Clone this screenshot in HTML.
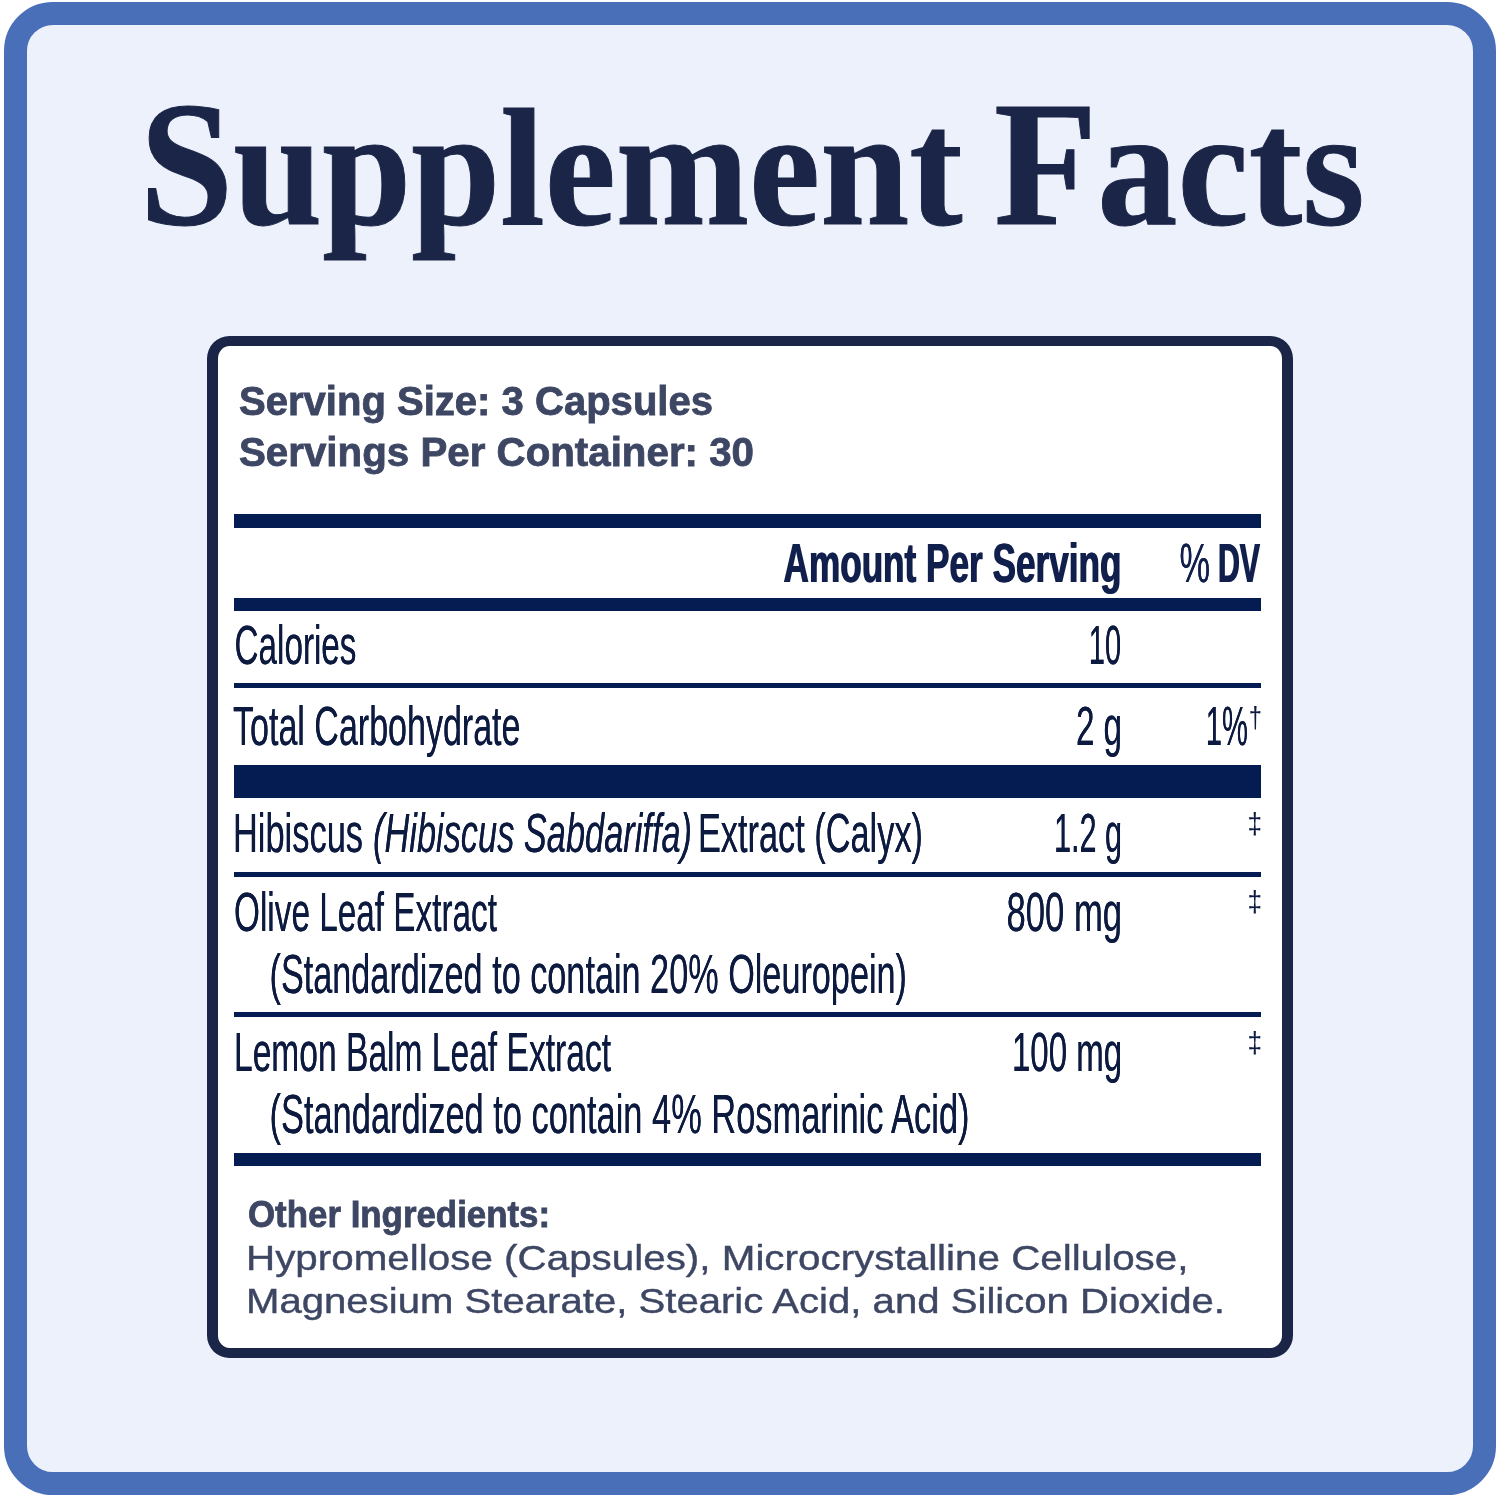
<!DOCTYPE html>
<html lang="en">
<head>
<meta charset="utf-8">
<title>Supplement Facts</title>
<style>
  html, body { margin: 0; padding: 0; background: #ffffff; }
  body { width: 1500px; height: 1498px; position: relative; overflow: hidden; }
  .frame {
    position: absolute; left: 3.5px; top: 2px; width: 1492.5px; height: 1492.5px;
    box-sizing: border-box; border: 23.5px solid #4a6fb9; border-radius: 49px;
    background: #edf1fb;
  }
  .panel {
    position: absolute; left: 207.2px; top: 335.5px; width: 1086.3px; height: 1022.5px;
    box-sizing: border-box; border: solid #1b2547; border-width: 10.5px 11px 10px 11px; border-radius: 22.5px;
    background: #ffffff;
  }
  .rule { position: absolute; left: 233.5px; width: 1027.7px; background: #051c52; }
  svg.txt { position: absolute; left: 0; top: 0; width: 1500px; height: 1498px; overflow: visible; }
  .title { font-family: "Liberation Serif", serif; font-weight: bold; fill: #1b2547; stroke: #1b2547; stroke-width: 1px; }
  .sans  { font-family: "Liberation Sans", sans-serif; }
  .soft  { fill: #3d4663; stroke: #3d4663; stroke-width: 0.4px; }
  .navy  { fill: #0c1a40; stroke: #0c1a40; stroke-width: 0; filter: drop-shadow(0.7px 0 0 #0c1a40); }
  .b     { font-weight: bold; }
  .soft.b { stroke-width: 0.8px; }
  .navy.b { stroke-width: 0; filter: drop-shadow(1.2px 0 0 #101f4c); }
  .i     { font-style: italic; }
  .navy.thin { stroke-width: 0; filter: none; }
  .navy.hd { fill: #101f4c; stroke: #101f4c; }
  .navy.hd:not(.b) { filter: drop-shadow(0.7px 0 0 #101f4c); }
</style>
</head>
<body>
<div class="frame"></div>
<div class="panel"></div>

<div class="rule" style="top:513.5px;height:14.5px"></div>
<div class="rule" style="top:598px;height:13px"></div>
<div class="rule" style="top:683.3px;height:4.4px"></div>
<div class="rule" style="top:765.2px;height:32.6px"></div>
<div class="rule" style="top:872.3px;height:4.6px"></div>
<div class="rule" style="top:1012.4px;height:4.6px"></div>
<div class="rule" style="top:1153.3px;height:12.6px"></div>

<svg class="txt" viewBox="0 0 1500 1498">
  <text class="title" font-size="168" x="139.4" y="223.5" textLength="823.1" lengthAdjust="spacingAndGlyphs"><tspan font-size="177">S</tspan>upplement</text>
  <text class="title" font-size="168" x="994.0" y="223.5" textLength="370.6" lengthAdjust="spacingAndGlyphs"><tspan font-size="177">F</tspan>acts</text>
  <text class="sans soft b" font-size="40" x="239.0" y="414.5" textLength="474.0" lengthAdjust="spacingAndGlyphs">Serving Size: 3 Capsules</text>
  <text class="sans soft b" font-size="40" x="239.0" y="466" textLength="515.0" lengthAdjust="spacingAndGlyphs">Servings Per Container: 30</text>
  <text class="sans navy b hd" font-size="55" x="783.0" y="582" textLength="338.0" lengthAdjust="spacingAndGlyphs">Amount Per Serving</text>
  <text class="sans navy hd" font-size="55" x="1179.4" y="582" textLength="30.6" lengthAdjust="spacingAndGlyphs">%</text>
  <text class="sans navy b hd" font-size="55" x="1217.4" y="582" textLength="42.1" lengthAdjust="spacingAndGlyphs">DV</text>
  <text class="sans navy" font-size="55" x="234.5" y="664" textLength="122.0" lengthAdjust="spacingAndGlyphs">Calories</text>
  <text class="sans navy" font-size="55" x="1088.8" y="664" textLength="32.3" lengthAdjust="spacingAndGlyphs">10</text>
  <text class="sans navy" font-size="55" x="233.0" y="744.7" textLength="287.5" lengthAdjust="spacingAndGlyphs">Total Carbohydrate</text>
  <text class="sans navy" font-size="55" x="1075.9" y="744.7" textLength="46.2" lengthAdjust="spacingAndGlyphs">2 g</text>
  <text class="sans navy" font-size="55" x="1205.8" y="744.7" textLength="42.2" lengthAdjust="spacingAndGlyphs">1%</text>
  <text class="sans navy thin" font-size="29" x="1248.7" y="728" textLength="13.2" lengthAdjust="spacingAndGlyphs">†</text>
  <text class="sans navy" font-size="55" x="232.9" y="851.5" textLength="130.1" lengthAdjust="spacingAndGlyphs">Hibiscus</text>
  <text class="sans navy i" font-size="55" x="373.0" y="851.5" textLength="319.0" lengthAdjust="spacingAndGlyphs">(Hibiscus Sabdariffa)</text>
  <text class="sans navy" font-size="55" x="697.9" y="851.5" textLength="225.1" lengthAdjust="spacingAndGlyphs">Extract (Calyx)</text>
  <text class="sans navy" font-size="55" x="1053.9" y="851.5" textLength="68.3" lengthAdjust="spacingAndGlyphs">1.2 g</text>
  <text class="sans navy thin" font-size="29" x="1247.5" y="834" textLength="14.6" lengthAdjust="spacingAndGlyphs">‡</text>
  <text class="sans navy" font-size="55" x="234.0" y="930.5" textLength="263.0" lengthAdjust="spacingAndGlyphs">Olive Leaf Extract</text>
  <text class="sans navy" font-size="55" x="1006.5" y="930.5" textLength="115.6" lengthAdjust="spacingAndGlyphs">800 mg</text>
  <text class="sans navy thin" font-size="29" x="1247.5" y="912" textLength="14.6" lengthAdjust="spacingAndGlyphs">‡</text>
  <text class="sans navy" font-size="55" x="269.5" y="993.3" textLength="637.5" lengthAdjust="spacingAndGlyphs">(Standardized to contain 20% Oleuropein)</text>
  <text class="sans navy" font-size="55" x="234.0" y="1070.5" textLength="377.0" lengthAdjust="spacingAndGlyphs">Lemon Balm Leaf Extract</text>
  <text class="sans navy" font-size="55" x="1011.9" y="1070.5" textLength="110.2" lengthAdjust="spacingAndGlyphs">100 mg</text>
  <text class="sans navy thin" font-size="29" x="1247.5" y="1053" textLength="14.6" lengthAdjust="spacingAndGlyphs">‡</text>
  <text class="sans navy" font-size="55" x="269.5" y="1133.3" textLength="700.0" lengthAdjust="spacingAndGlyphs">(Standardized to contain 4% Rosmarinic Acid)</text>
  <text class="sans soft b" font-size="36" x="248.0" y="1226.5" textLength="302.1" lengthAdjust="spacingAndGlyphs">Other Ingredients:</text>
  <text class="sans soft" font-size="35" x="246.0" y="1269.5" textLength="942.5" lengthAdjust="spacingAndGlyphs">Hypromellose (Capsules), Microcrystalline Cellulose,</text>
  <text class="sans soft" font-size="35" x="246.0" y="1312.5" textLength="979.0" lengthAdjust="spacingAndGlyphs">Magnesium Stearate, Stearic Acid, and Silicon Dioxide.</text>
</svg>
</body>
</html>
